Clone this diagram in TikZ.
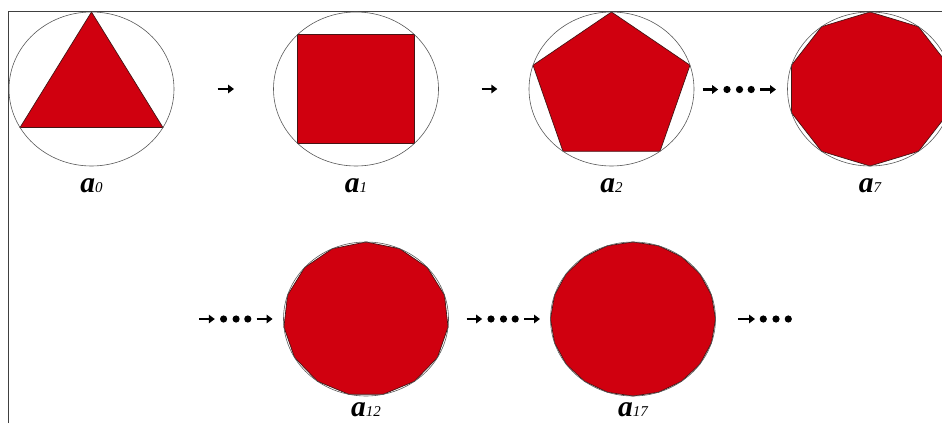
\documentclass[tikz,border=0pt]{standalone}
\usepackage{fontspec}
\setmainfont{Liberation Serif}
\usetikzlibrary{arrows.meta}
\definecolor{polyred}{RGB}{208,0,15}
\definecolor{polyedge}{RGB}{70,20,20}

\begin{document}
\begin{tikzpicture}[x=1pt, y=-1pt,
    ring/.style={draw=black!65, line width=0.6pt},
    poly/.style={fill=polyred, draw=polyedge, line width=0.7pt},
    lab/.style={anchor=base, inner sep=0pt},
    nextarr/.style={line width=2.5pt, -{Triangle[length=6pt, width=8.5pt]}},
    dot/.style={fill=black}]
    \useasboundingbox (0, 0) rectangle (942, 423);
    \clip (0, 0) rectangle (942, 423);
    % frame lines
    \draw[black!75, line width=1pt] (8.3, 423) -- (8.3, 11.7) -- (942, 11.7);
    % inscribed polygons a_n with n+3 sides
    \foreach \nm/\cx/\cy/\n/\s/\k/\dy in {a0/91.5/89/3/90/0/103, a1/356/89/4/45/1/103,
        a2/611.5/89/5/90/2/103, a7/870/89/10/90/7/103, a12/366/319/15/90/12/97,
        a17/633/319/20/90/17/97} {
        \pgfmathtruncatemacro\m{\n+1}
        \filldraw[poly] plot[samples=\m, domain=\s:\s+360]
            ({\cx+82.5*cos(\x)}, {\cy-77*sin(\x)}) -- cycle;
        \draw[ring] (\cx, \cy) ellipse [x radius=82.5, y radius=77];
        \node[lab] (\nm) at (\cx, \cy+\dy)
            {\fontsize{29.5}{30}\selectfont\bfseries\itshape a\fontsize{15}{15}\selectfont\mdseries\k};
    }
    % single arrows
    \draw[nextarr] (217.7, 89) -- (234, 89);
    \draw[nextarr] (481.7, 89) -- (497.3, 89);
    % arrow, dots, arrow
    \foreach \x/\y in {702.7/89.5, 199.3/319, 466.7/319} {
        \draw[nextarr] (\x, \y) -- (\x+15.5, \y);
        \foreach \d in {24.3, 36.8, 48.5}
            \fill[dot] (\x+\d, \y) circle (3.6);
        \draw[nextarr] (\x+57.3, \y) -- (\x+73.3, \y);
    }
    % trailing arrow and dots
    \draw[nextarr] (738.3, 319) -- (755, 319);
    \foreach \d in {763.3, 776, 788.3}
        \fill[dot] (\d, 319) circle (3.6);
\end{tikzpicture}
\end{document}
